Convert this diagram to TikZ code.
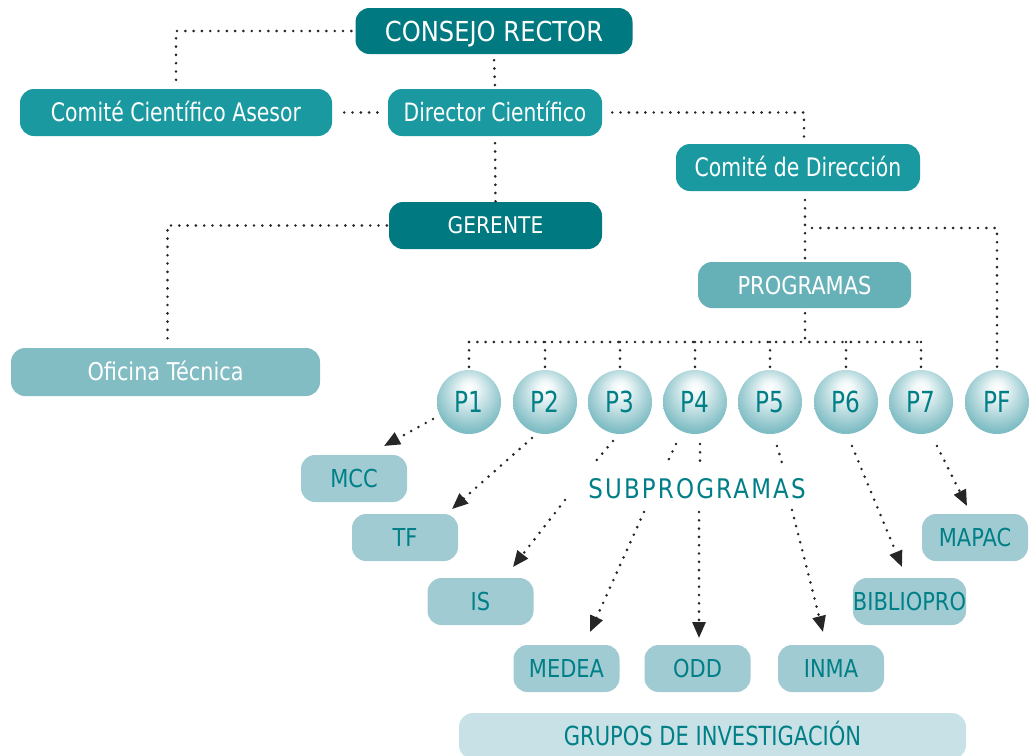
\documentclass[tikz,border=0pt]{standalone}
\usepackage{fontspec}
\setmainfont{DejaVu Sans}[FakeStretch=0.8]
\newfontfamily\fA{DejaVu Sans}[FakeStretch=0.8]
\newfontfamily\fB{DejaVu Sans}[FakeStretch=0.85]
\newfontfamily\fC{DejaVu Sans}[FakeStretch=0.88]
\newfontfamily\subfont{DejaVu Sans}[FakeStretch=0.85,LetterSpace=8]
\usetikzlibrary{arrows.meta,calc}
\definecolor{cdark}{HTML}{007A80}
\definecolor{cmid}{HTML}{1A9AA0}
\definecolor{cprog}{HTML}{66B0B8}
\definecolor{cot}{HTML}{82BDC4}
\definecolor{clight}{HTML}{A0CBD2}
\definecolor{cgrp}{HTML}{C8E1E6}
\definecolor{ctext}{HTML}{007F87}
\definecolor{cball}{HTML}{7FBDC4}
\pgfdeclareradialshading{pball}{\pgfpoint{0bp}{12bp}}{color(0bp)=(white); color(6bp)=(white!88!cball); color(28bp)=(cball); color(50bp)=(cball)}
\newcommand\myfs[1]{\fontsize{#1}{#1}\selectfont}
\tikzset{
  box/.style={rounded corners=14pt, minimum height=47pt, inner sep=0pt, text depth=0pt},
  darkbox/.style={box, fill=cdark, text=white},
  midbox/.style={box, fill=cmid, text=white},
  lightbox/.style={box, fill=clight, text=ctext, font=\fB\myfs{24.7}, text height=18pt, minimum width=106pt},
  pcirc/.style={circle, minimum size=64pt, inner sep=0pt, shading=pball, text=ctext, font=\fA\myfs{29}, text height=21.1pt, text depth=0pt},
  dl/.style={line width=2.9pt, line cap=round, dash pattern=on 0pt off 8.3pt, black!85},
  da/.style={dl, -{Triangle[length=16pt,width=13pt]}},
}
\begin{document}
\begin{tikzpicture}[x=1pt,y=-1pt]
\useasboundingbox (0,0) rectangle (1030,755);
% boxes
\node[darkbox, minimum width=277pt, minimum height=46pt, font=\fC\myfs{27.5}, text height=20pt] (cr) at (494,31) {CONSEJO RECTOR};
\node[midbox, minimum width=312pt, font=\fA\myfs{25.5}, text height=18.6pt] (cca) at (176,112.5) {Comité Científico Asesor};
\node[midbox, minimum width=214pt, font=\fA\myfs{25.3}, text height=18.4pt] (dc) at (495,112.5) {Director Científico};
\node[midbox, minimum width=244pt, font=\fA\myfs{25.5}, text height=18.6pt] (cdd) at (798,167.5) {Comité de Dirección};
\node[darkbox, minimum width=213pt, font=\fC\myfs{23}, text height=16.8pt] (ger) at (495.5,225.5) {GERENTE};
\node[box, fill=cprog, text=white, minimum width=213pt, minimum height=46pt, font=\fB\myfs{24.7}, text height=18pt] (prog) at (804.5,285) {PROGRAMAS};
\node[box, fill=cot, text=white, minimum width=309pt, minimum height=48pt, font=\fB\myfs{24.5}, text height=17.9pt] (ot) at (165.5,372) {Oficina Técnica};
% circles
\node[pcirc] (p1) at (469,402) {P1};
\node[pcirc] (p2) at (545,402) {P2};
\node[pcirc] (p3) at (620,402) {P3};
\node[pcirc] (p4) at (695,402) {P4};
\node[pcirc] (p5) at (770,402) {P5};
\node[pcirc] (p6) at (846,402) {P6};
\node[pcirc] (p7) at (921,402) {P7};
\node[pcirc] (pf) at (997,402) {PF};
% light boxes
\node[lightbox] (mcc) at (354,478.5) {MCC};
\node[lightbox] (tf) at (405,537.5) {TF};
\node[lightbox] (is) at (480.5,601.5) {IS};
\node[lightbox] (medea) at (566.5,668.5) {MEDEA};
\node[lightbox] (odd) at (697.5,668.5) {ODD};
\node[lightbox] (inma) at (831,668.5) {INMA};
\node[lightbox] (biblio) at (909.5,601.5) {BIBLIOPRO};
\node[lightbox] (mapac) at (975,537.5) {MAPAC};
\node[box, fill=cgrp, text=ctext, minimum width=507pt, minimum height=46pt, font=\fA\myfs{26.3}, text height=19.2pt] (grp) at (712.5,736) {GRUPOS DE INVESTIGACIÓN};
\node[text=ctext, font=\subfont\myfs{27}, inner sep=0pt, text height=19.7pt, text depth=0pt] (sub) at (697,489) {SUBPROGRAMAS};
% top connectors
\draw[dl] ([xshift=-4pt]cr.west) -| ([yshift=9pt]cca.north);
\draw[dl] ([yshift=-6pt]cr.south) -- ([yshift=2pt]dc.north);
\draw[dl] ([xshift=12pt]cca.east) -- ([xshift=-8pt]dc.west);
\coordinate (cdtop) at (804,138);
\draw[dl] ([xshift=10pt]dc.east) -| (cdtop);
\draw[dl] ([yshift=-7pt]dc.south) -- (ger.north);
\draw[dl] ([xshift=-2pt]ger.west) -| ([xshift=2pt,yshift=3pt]ot.north);
\coordinate (cdbot) at (805,200);
\draw[dl] (cdbot) -- (prog.north -| cdbot);
\coordinate (pfbr) at (812,228);
\draw[dl] (pfbr) -| ([yshift=2pt]pf.north);
\coordinate (bus) at (805,342);
\draw[dl] ([yshift=-5pt]prog.south -| bus) -- (bus);
\draw[dl] (p1.north |- bus) -- (p7.north |- bus);
\foreach \p in {p1,p2,p3,p4,p5,p6,p7}{
  \draw[dl] (\p.north |- bus) -- (\p.north);
}
% lower connectors
\coordinate (a1s) at (433,419); \coordinate (a1e) at (384,446);
\coordinate (a2s) at (532,438); \coordinate (a2e) at (452,509);
\coordinate (a3s) at (613,441); \coordinate (a3e) at (595,462);
\coordinate (a4s) at (676,444); \coordinate (a4e) at (668,461);
\coordinate (a5s) at (700,444); \coordinate (a5e) at (700,463);
\coordinate (a6s) at (777,446); \coordinate (a6e) at (782,463);
\coordinate (b1s) at (565,500); \coordinate (b1e) at (513,567);
\coordinate (b2s) at (644,512); \coordinate (b2e) at (590,632);
\coordinate (b3s) at (699,512); \coordinate (b3e) at (699,638);
\coordinate (b4s) at (792,510); \coordinate (b4e) at (823,632);
\coordinate (c1s) at (852,446); \coordinate (c1e) at (902,567);
\coordinate (c2s) at (937,446); \coordinate (c2e) at (967,506);
\draw[da] (a1s) -- (a1e);
\draw[da] (a2s) -- (a2e);
\draw[dl] (a3s) -- (a3e);
\draw[dl] (a4s) -- (a4e);
\draw[dl] (a5s) -- (a5e);
\draw[dl] (a6s) -- (a6e);
\draw[da] (b1s) -- (b1e);
\draw[da] (b2s) -- (b2e);
\draw[da] (b3s) -- (b3e);
\draw[da] (b4s) -- (b4e);
\draw[da] (c1s) -- (c1e);
\draw[da] (c2s) -- (c2e);
\end{tikzpicture}
\end{document}
